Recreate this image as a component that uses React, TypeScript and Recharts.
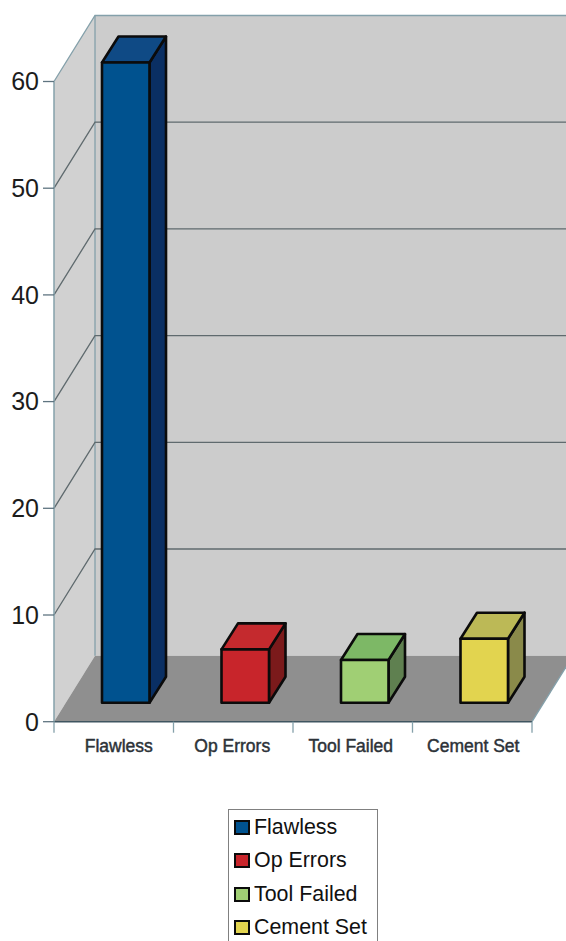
import React from "react";
import { BarChart, Bar, XAxis, YAxis, Customized } from "recharts";

const categories = ["Flawless", "Op Errors", "Tool Failed", "Cement Set"];
const counts = [60, 5, 4, 6];
const yTicks = [0, 10, 20, 30, 40, 50, 60];

const frontColors = ["#00528f", "#c8252b", "#a0cf74", "#e2d44f"];
const topColors = ["#0f4a85", "#c42a2e", "#7db866", "#bcb956"];
const sideColors = ["#0a2f63", "#7b1a1b", "#5f8050", "#8a8a4a"];

const chartData = categories.map((name, i) => ({ name, value: counts[i] }));

const W = 566;
const H = 941;
const plotLeft = 54;
const plotRight = 532;
const plotTop = 81.5;
const plotBottom = 721.7;
const depthX = 41;
const depthY = 66;
const bandWidth = (plotRight - plotLeft) / categories.length;
const steel = "#84a0aa";
const labelNudge = [5, -1, -2, 1];

// side wall, back wall, floor and the grid that runs along both walls
function Room() {
  const backLeft = plotLeft + depthX;
  const backTop = plotTop - depthY;
  const backBottom = plotBottom - depthY;
  const tickMax = yTicks[yTicks.length - 1];
  return (
    <g>
      <polygon
        points={`${plotLeft},${plotTop} ${backLeft},${backTop} ${backLeft},${backBottom} ${plotLeft},${plotBottom}`}
        fill="#d1d1d1"
      />
      <rect x={backLeft} y={backTop} width={W - backLeft} height={backBottom - backTop} fill="#cccccc" />
      <polygon
        points={`${plotLeft},${plotBottom} ${backLeft},${backBottom} ${plotRight + depthX},${backBottom} ${plotRight},${plotBottom}`}
        fill="#8f8f8f"
      />
      <line x1={backLeft} y1={backTop} x2={backLeft} y2={backBottom} stroke={steel} strokeWidth={1.3} />
      <line x1={plotRight} y1={plotBottom} x2={plotRight + depthX} y2={backBottom} stroke={steel} strokeWidth={1.3} />
      {yTicks.slice(1).map((t) => {
        const y = plotBottom - (t / tickMax) * (plotBottom - plotTop);
        return (
          <path
            key={t}
            d={`M${plotLeft},${y} L${backLeft},${y - depthY} L${W},${y - depthY}`}
            fill="none"
            stroke={t === tickMax ? steel : "#5f6a6e"}
            strokeWidth={1.3}
          />
        );
      })}
    </g>
  );
}

function Box(props: any) {
  const { x, y, width, height, index } = props;
  const dx = 12;
  const dy = 19;
  const sx = 16.5;
  const sy = 26;
  const l = x + dx;
  const r = l + width;
  const t = y - dy;
  const b = t + height;
  const edge = { stroke: "#0b0b0b", strokeWidth: 2.6, strokeLinejoin: "round" as const };
  return (
    <g>
      <polygon points={`${r},${t} ${r + sx},${t - sy} ${r + sx},${b - sy} ${r},${b}`} fill={sideColors[index]} {...edge} />
      <polygon points={`${l},${t} ${l + sx},${t - sy} ${r + sx},${t - sy} ${r},${t}`} fill={topColors[index]} {...edge} />
      <rect x={l} y={t} width={width} height={height} fill={frontColors[index]} {...edge} />
    </g>
  );
}

function CategoryTick(props: any) {
  const { x, y, payload, index } = props;
  const left = x - bandWidth / 2;
  const tickTop = plotBottom;
  const tickBottom = plotBottom + 11;
  return (
    <g>
      <line x1={left} y1={tickTop} x2={left} y2={tickBottom} stroke={steel} strokeWidth={1.3} />
      {index === categories.length - 1 && (
        <line x1={left + bandWidth} y1={tickTop} x2={left + bandWidth} y2={tickBottom} stroke={steel} strokeWidth={1.3} />
      )}
      <text
        x={x + labelNudge[index]}
        y={y + 22}
        textAnchor="middle"
        fontSize={17.5}
        fontFamily="Liberation Sans"
        fill="#2c3238"
        stroke="#2c3238"
        strokeWidth={0.45}
      >
        {payload.value}
      </text>
    </g>
  );
}

function LegendBox() {
  return (
    <div
      style={{
        position: "absolute",
        left: 228,
        top: 809,
        width: 148,
        height: 150,
        border: "1px solid #808080",
        background: "#fff",
        fontFamily: "Liberation Sans",
        fontSize: 21.4,
        color: "#111",
      }}
    >
      {categories.map((name, i) => (
        <div key={name} style={{ position: "absolute", left: 5, top: 0.5 + i * 33.6, height: 33, display: "flex", alignItems: "center" }}>
          <span
            style={{
              display: "inline-block",
              boxSizing: "border-box",
              width: 16,
              height: 15,
              border: "2.4px solid #0b0b0b",
              background: frontColors[i],
              marginRight: 4,
            }}
          />
          <span style={{ whiteSpace: "nowrap" }}>{name}</span>
        </div>
      ))}
    </div>
  );
}

export default function App() {
  return (
    <div style={{ position: "absolute", left: 0, top: 0, width: W, height: H, overflow: "hidden", background: "#fff" }}>
      <BarChart
        width={W}
        height={H}
        data={chartData}
        barSize={47.5}
        margin={{ top: plotTop, right: W - plotRight, bottom: H - plotBottom - 40, left: 0 }}
      >
        <Customized component={Room} />
        <XAxis
          dataKey="name"
          height={40}
          axisLine={{ stroke: "#3f5560", strokeWidth: 1.6 }}
          tickLine={false}
          tick={CategoryTick}
          interval={0}
        />
        <YAxis
          width={plotLeft}
          domain={[0, 60]}
          ticks={yTicks}
          axisLine={{ stroke: steel, strokeWidth: 1.5 }}
          tickLine={{ stroke: "#5f7480", strokeWidth: 1.3 }}
          tickSize={11}
          tickMargin={4}
          tick={{ fontSize: 25, fontFamily: "Liberation Sans", fill: "#1c1c1c" }}
        />
        <Bar dataKey="value" shape={Box} isAnimationActive={false} />
      </BarChart>
      <LegendBox />
    </div>
  );
}
